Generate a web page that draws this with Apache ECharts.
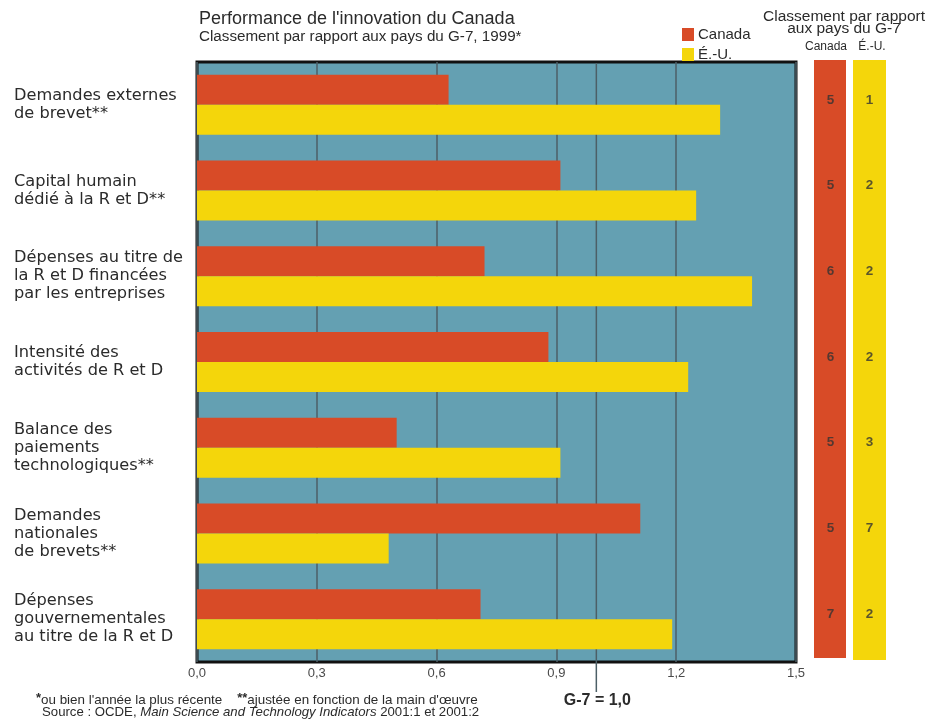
<!DOCTYPE html>
<html>
<head>
<meta charset="utf-8">
<script src="https://cdn.jsdelivr.net/npm/echarts@6/dist/echarts.min.js"></script>
<style>
  html, body { margin: 0; padding: 0; background: #fff; }
  #chart { width: 930px; height: 721px; }
</style>
</head>
<body>
<div id="chart"></div>
<script>
// Indicator names (top to bottom)
const categories = [
  'Demandes externes\nde brevet**',
  'Capital humain\ndédié à la R et D**',
  'Dépenses au titre de\nla R et D financées\npar les entreprises',
  'Intensité des\nactivités de R et D',
  'Balance des\npaiements\ntechnologiques**',
  'Demandes\nnationales\nde brevets**',
  'Dépenses\ngouvernementales\nau titre de la R et D'
];
// Index relative to the G-7 average (G-7 = 1,0)
const canadaValues = [0.63, 0.91, 0.72, 0.88, 0.50, 1.11, 0.71];
const usValues     = [1.31, 1.25, 1.39, 1.23, 0.91, 0.48, 1.19];
// Rank among G-7 countries
const canadaRanks = [5, 5, 6, 6, 5, 5, 7];
const usRanks     = [1, 2, 2, 2, 3, 7, 2];
// Value axis ticks
const xTicks = [0, 0.3, 0.6, 0.9, 1.2, 1.5];
const g7Reference = 1.0;

const FONT = 'Liberation Sans, Arial, Helvetica, sans-serif';
const WIDE = 'DejaVu Sans, Liberation Sans, sans-serif';
const TXT = '#2b2b2b';
const C_CAN = '#D84B27';
const C_US = '#F4D60B';
const C_BG = '#64A0B2';
const C_GRID = '#4c5f67';

const fmt = v => v.toFixed(1).replace('.', ',');

const chart = echarts.init(document.getElementById('chart'), null, { renderer: 'canvas' });

const option = {
  backgroundColor: '#ffffff',
  animation: false,
  textStyle: { fontFamily: FONT },
  title: {
    text: "{a|Performance de l'innovation du Canada}\n{b|Classement par rapport aux pays du G-7, 1999*}",
    left: 199, top: 10, padding: 0,
    textStyle: {
      fontFamily: FONT, fontWeight: 'normal', color: TXT,
      rich: {
        a: { fontFamily: FONT, fontSize: 18, lineHeight: 18, color: TXT },
        b: { fontFamily: FONT, fontSize: 15.2, lineHeight: 18, color: TXT }
      }
    }
  },
  legend: {
    orient: 'vertical',
    left: 677, top: 22,
    itemWidth: 12, itemHeight: 13, itemGap: 5,
    icon: 'rect',
    selectedMode: false,
    textStyle: { fontFamily: FONT, fontSize: 15, color: TXT, padding: [0, 0, 0, -1] },
    data: ['Canada', 'É.-U.']
  },
  grid: [
    {
      left: 197, right: 134, top: 62, bottom: 59,
      show: true, backgroundColor: C_BG, borderColor: '#111', borderWidth: 3,
      containLabel: false
    },
    { left: 811, width: 78, top: 62, height: 600, containLabel: false }
  ],
  xAxis: [
    {
      type: 'value', gridIndex: 0, min: xTicks[0], max: xTicks[xTicks.length - 1],
      interval: xTicks[1] - xTicks[0],
      axisLine: { show: false }, axisTick: { show: false },
      splitLine: { show: true, lineStyle: { color: C_GRID, width: 1.5 } },
      axisLabel: { color: '#4a4a4a', fontSize: 13, margin: 5, formatter: fmt, fontFamily: FONT }
    },
    { type: 'value', gridIndex: 1, min: 0, max: 2, show: false }
  ],
  yAxis: [
    {
      type: 'category', gridIndex: 0, data: categories, inverse: true,
      axisLine: { show: false }, axisTick: { show: false }, splitLine: { show: false },
      axisLabel: {
        align: 'left', margin: 183, color: TXT, fontSize: 16.2, lineHeight: 18,
        fontFamily: WIDE
      }
    },
    { type: 'category', gridIndex: 1, data: categories, inverse: true, show: false }
  ],
  series: [
    {
      name: 'Canada', type: 'bar', xAxisIndex: 0, yAxisIndex: 0,
      data: canadaValues, barWidth: 30, barGap: '0%', z: 3,
      itemStyle: { color: C_CAN }
    },
    {
      name: 'É.-U.', type: 'bar', xAxisIndex: 0, yAxisIndex: 0,
      data: usValues, barWidth: 30, barGap: '0%', z: 3,
      itemStyle: { color: C_US }
    },
    {
      name: 'rangCanada', type: 'scatter', xAxisIndex: 1, yAxisIndex: 1,
      symbolSize: 0, z: 5,
      data: canadaRanks.map((r, i) => [0.5, i, r]),
      label: {
        show: true, position: 'inside', offset: [0, -5],
        formatter: p => String(p.value[2]),
        fontFamily: FONT, fontSize: 13.5, fontWeight: 'bold', color: '#333'
      }
    },
    {
      name: 'rangEU', type: 'scatter', xAxisIndex: 1, yAxisIndex: 1,
      symbolSize: 0, z: 5,
      data: usRanks.map((r, i) => [1.5, i, r]),
      label: {
        show: true, position: 'inside', offset: [0, -5],
        formatter: p => String(p.value[2]),
        fontFamily: FONT, fontSize: 13.5, fontWeight: 'bold', color: '#333'
      }
    }
  ]
};

chart.setOption(option);

// Reference line at G-7 = 1,0, placed with the value axis scale
const gx = chart.convertToPixel({ xAxisIndex: 0 }, g7Reference);

chart.setOption({
  graphic: [
    // rank strips
    { type: 'rect', z: 1, shape: { x: 814, y: 60, width: 32, height: 598 }, style: { fill: C_CAN } },
    { type: 'rect', z: 1, shape: { x: 853, y: 60, width: 33, height: 600 }, style: { fill: C_US } },
    // rank header
    {
      type: 'text', z: 2,
      style: {
        x: 844, y: 11, text: 'Classement par rapport\naux pays du G-7', align: 'center',
        font: '15.5px ' + FONT, lineHeight: 12, fill: TXT
      }
    },
    {
      type: 'text', z: 2,
      style: { x: 826, y: 41, text: 'Canada', align: 'center', font: '12px ' + FONT, fill: TXT }
    },
    {
      type: 'text', z: 2,
      style: { x: 872, y: 41, text: 'É.-U.', align: 'center', font: '12px ' + FONT, fill: TXT }
    },
    // G-7 reference line
    {
      type: 'line', z: 1,
      shape: { x1: gx, y1: 63, x2: gx, y2: 692 },
      style: { stroke: C_GRID, lineWidth: 1.5 }
    },
    {
      type: 'text', z: 2,
      style: {
        x: gx + 1, y: 693, text: 'G-7 = 1,0', align: 'center',
        font: 'bold 16px ' + FONT, fill: TXT
      }
    },
    // footnotes
    {
      type: 'text', z: 2,
      style: {
        x: 36, y: 692,
        text: '{s|*}ou bien l\'année la plus récente    {s|**}ajustée en fonction de la main d\'œuvre',
        font: '13.4px ' + FONT, fill: TXT,
        rich: { s: { fontSize: 13, fontWeight: 'bold', fill: TXT, verticalAlign: 'top', padding: [0, 0, 3, 0] } }
      }
    },
    {
      type: 'text', z: 2,
      style: {
        x: 42, y: 706,
        text: 'Source : OCDE, {i|Main Science and Technology Indicators} 2001:1 et 2001:2',
        font: '13.2px ' + FONT, fill: TXT,
        rich: { i: { fontStyle: 'italic', fontSize: 13.2, fill: TXT } }
      }
    }
  ]
});
</script>
</body>
</html>
